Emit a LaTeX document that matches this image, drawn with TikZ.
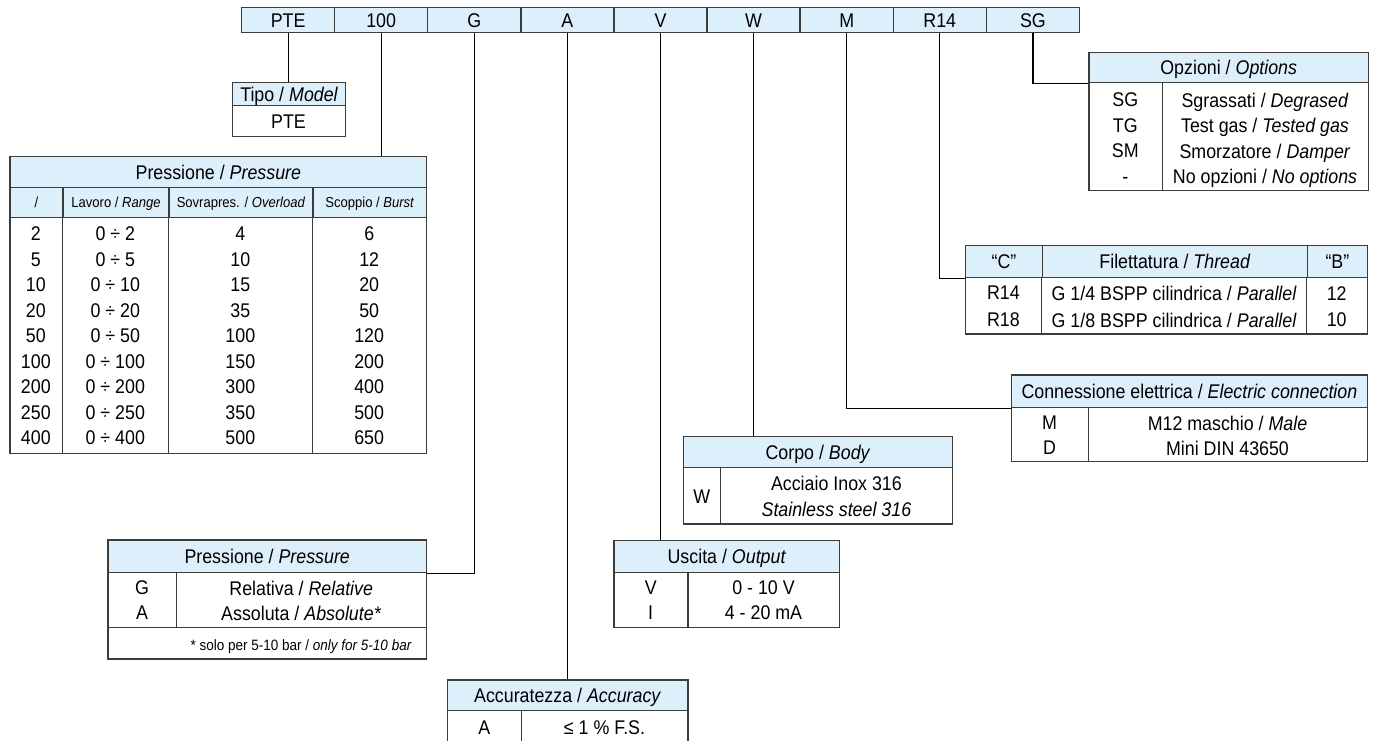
\documentclass[tikz,border=0pt]{standalone}
\usepackage{fontspec}
\setmainfont{Liberation Sans}[FakeStretch=0.9]
\usepackage{tikz}
\definecolor{headblue}{HTML}{DCEFFA}
\definecolor{rulegray}{HTML}{3C3C3C}

\tikzset{
  codecell/.style={draw=rulegray, fill=headblue, line width=1.4pt, minimum width=93.1pt, minimum height=25.4pt, inner sep=0pt, text height=14.2pt, text depth=0pt},
  headcell/.style={draw=rulegray, fill=headblue, line width=1.4pt, inner sep=0pt, anchor=north west, text height=14.2pt, text depth=0pt},
  bodycell/.style={draw=rulegray, line width=1.4pt, inner sep=0pt, anchor=north west},
  entries/.style={align=center, inner sep=0pt, anchor=north},
  subhead/.style={font=\fontsize{14.5}{17}\selectfont, text height=10.4pt},
  note/.style={font=\fontsize{15}{17}\selectfont, inner sep=0pt, text height=10.7pt, text depth=0pt},
  link/.style={line width=1.2pt, black},
  divider/.style={draw=rulegray, line width=1.4pt}
}

\begin{document}
\begin{tikzpicture}[x=1pt, y=-1pt, font=\fontsize{19.8}{25.5}\selectfont]
\useasboundingbox (0,0) rectangle (1375,740);

% code bar
\node[codecell] (cPTE) at (288.1,20) {PTE};
\node[codecell] (c100) at (381.2,20) {100};
\node[codecell] (cG) at (474.3,20) {G};
\node[codecell] (cA) at (567.4,20) {A};
\node[codecell] (cV) at (660.5,20) {V};
\node[codecell] (cW) at (753.6,20) {W};
\node[codecell] (cM) at (846.7,20) {M};
\node[codecell] (cR14) at (939.8,20) {R14};
\node[codecell] (cSG) at (1032.9,20) {SG};

% model
\node[headcell, minimum width=113pt, minimum height=23pt] (tipoHead) at (232,82) {Tipo / \textit{Model}};
\node[bodycell, minimum width=113pt, minimum height=31pt] (tipoBody) at (232,105) {};
\node[entries] (tipoCode) at (288.5,114.85) {PTE};
\draw[link] (cPTE.south) -- (cPTE.south |- tipoHead.north);

% pressure range
\node[headcell, minimum width=416.7pt, minimum height=30.7pt] (presHead) at (9.3,156) {Pressione / \textit{Pressure}};
\node[headcell, subhead, minimum width=53pt, minimum height=30pt] (presH1) at (9.3,186.7) {/};
\node[headcell, subhead, minimum width=106pt, minimum height=30pt] (presH2) at (62.3,186.7) {Lavoro / \textit{Range}};
\node[headcell, subhead, minimum width=144pt, minimum height=30pt] (presH3) at (168.3,186.7) {Sovrapres. / \textit{Overload}};
\node[headcell, subhead, minimum width=113.7pt, minimum height=30pt] (presH4) at (312.3,186.7) {Scoppio / \textit{Burst}};
\node[bodycell, minimum width=416.7pt, minimum height=236pt] (presBody) at (9.3,216.7) {};
\draw[divider] (presH2.south west) -- (presH2.south west |- presBody.south);
\draw[divider] (presH3.south west) -- (presH3.south west |- presBody.south);
\draw[divider] (presH4.south west) -- (presH4.south west |- presBody.south);
\node[entries] (presCode) at (35.8,226.85) {2\\5\\10\\20\\50\\100\\200\\250\\400};
\node[entries] (presRange) at (115.3,226.85) {0 ÷ 2\\0 ÷ 5\\0 ÷ 10\\0 ÷ 20\\0 ÷ 50\\0 ÷ 100\\0 ÷ 200\\0 ÷ 250\\0 ÷ 400};
\node[entries] (presOver) at (240.3,226.85) {4\\10\\15\\35\\100\\150\\300\\350\\500};
\node[entries] (presBurst) at (369.2,226.85) {6\\12\\20\\50\\120\\200\\400\\500\\650};
\draw[link] (c100.south) -- (c100.south |- presHead.north);

% options
\node[headcell, minimum width=279.4pt, minimum height=30pt] (optHead) at (1088.3,51.7) {Opzioni / \textit{Options}};
\node[bodycell, minimum width=279.4pt, minimum height=108.3pt] (optBody) at (1088.3,81.7) {};
\draw[divider] (1162.3,81.7) -- (1162.3,190);
\node[entries] (optCode) at (1125.3,92.85) {SG\\TG\\SM\\-};
\node[entries] (optText) at (1265,92.85) {Sgrassati / \textit{Degrased}\\Test gas / \textit{Tested gas}\\Smorzatore / \textit{Damper}\\No opzioni / \textit{No options}};
\draw[link] (cSG.south) |- (optHead.south west);

% thread
\node[headcell, minimum width=76.7pt, minimum height=31.7pt] (thrC) at (965,245) {“C”};
\node[headcell, minimum width=265pt, minimum height=31.7pt] (thrHead) at (1041.7,245) {Filettatura / \textit{Thread}};
\node[headcell, minimum width=60pt, minimum height=31.7pt] (thrB) at (1306.7,245) {“B”};
\node[bodycell, minimum width=401.7pt, minimum height=56.6pt] (thrBody) at (965,276.7) {};
\draw[divider] (thrHead.south west) -- (thrHead.south west |- thrBody.south);
\draw[divider] (thrB.south west) -- (thrB.south west |- thrBody.south);
\node[entries, font=\fontsize{19.8}{26.7}\selectfont] (thrCode) at (1003.4,286.15) {R14\\R18};
\node[entries, font=\fontsize{19.8}{26.7}\selectfont] (thrText) at (1174.2,286.15) {G 1/4 BSPP cilindrica / \textit{Parallel}\\G 1/8 BSPP cilindrica / \textit{Parallel}};
\node[entries, font=\fontsize{19.8}{26.7}\selectfont] (thrSize) at (1336.7,286.15) {12\\10};
\draw[link] (cR14.south) |- (thrC.south west);

% electric connection
\node[headcell, minimum width=356pt, minimum height=32.4pt] (conHead) at (1010.7,374.3) {Connessione elettrica / \textit{Electric connection}};
\node[bodycell, minimum width=356pt, minimum height=54.3pt] (conBody) at (1010.7,406.7) {};
\draw[divider] (1088.3,406.7) -- (1088.3,461);
\node[entries, font=\fontsize{19.8}{25}\selectfont] (conCode) at (1049.5,416.15) {M\\D};
\node[entries, font=\fontsize{19.8}{25}\selectfont] (conText) at (1227.5,416.15) {M12 maschio / \textit{Male}\\Mini DIN 43650};
\draw[link] (cM.south) |- (conHead.south west);

% body
\node[headcell, minimum width=269.3pt, minimum height=31pt] (bodyHead) at (682.7,435.7) {Corpo / \textit{Body}};
\node[bodycell, minimum width=269.3pt, minimum height=56.6pt] (bodyBody) at (682.7,466.7) {};
\draw[divider] (720.7,466.7) -- (720.7,523.3);
\node[entries] (bodyCode) at (701.7,489.85) {W};
\node[entries, font=\fontsize{19.8}{26}\selectfont] (bodyText) at (836.4,475.85) {Acciaio Inox 316\\\textit{Stainless steel 316}};
\draw[link] (cW.south) -- (cW.south |- bodyHead.north);

% output
\node[headcell, minimum width=225.7pt, minimum height=31.7pt] (outHead) at (613.3,540) {Uscita / \textit{Output}};
\node[bodycell, minimum width=225.7pt, minimum height=55.3pt] (outBody) at (613.3,571.7) {};
\draw[divider] (688,571.7) -- (688,627);
\node[entries, font=\fontsize{19.8}{25}\selectfont] (outCode) at (650.7,580.85) {V\\I};
\node[entries, font=\fontsize{19.8}{25}\selectfont] (outText) at (763.5,580.85) {0 - 10 V\\4 - 20 mA};
\draw[link] (cV.south) -- (cV.south |- outHead.north);

% pressure type
\node[headcell, minimum width=318.4pt, minimum height=32.4pt] (gHead) at (107.3,539.3) {Pressione / \textit{Pressure}};
\node[bodycell, minimum width=318.4pt, minimum height=86.6pt] (gBody) at (107.3,571.7) {};
\draw[divider] (107.3,627.3) -- (425.7,627.3);
\draw[divider] (176.7,571.7) -- (176.7,627.3);
\node[entries, font=\fontsize{19.8}{25}\selectfont] (gCode) at (142,580.85) {G\\A};
\node[entries, font=\fontsize{19.8}{25}\selectfont] (gText) at (301.2,580.85) {Relativa / \textit{Relative}\\Assoluta / \textit{Absolute*}};
\node[note] (gNote) at (301.2,645) {* solo per 5-10 bar / \textit{only for 5-10 bar}};
\draw[link] (cG.south) |- (gHead.south east);

% accuracy
\node[headcell, minimum width=240.6pt, minimum height=30.7pt] (accHead) at (446.7,679.3) {Accuratezza / \textit{Accuracy}};
\node[bodycell, minimum width=240.6pt, minimum height=40pt] (accBody) at (446.7,710) {};
\draw[divider] (521.7,710) -- (521.7,750);
\node[entries] (accCode) at (484.2,720.85) {A};
\node[entries] (accText) at (604.5,720.85) {≤ 1 \% F.S.};
\draw[link] (cA.south) -- (cA.south |- accHead.north);
\end{tikzpicture}
\end{document}
